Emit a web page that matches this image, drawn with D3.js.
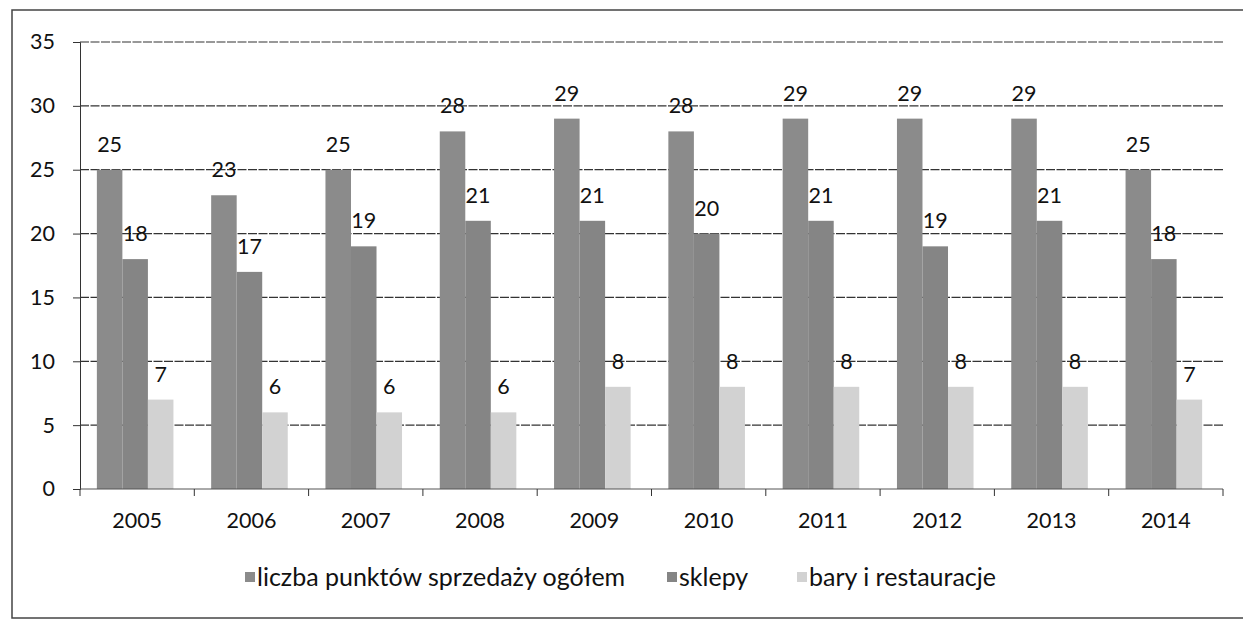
<!DOCTYPE html>
<html><head><meta charset="utf-8">
<script src="https://cdn.jsdelivr.net/npm/d3@7"></script>
<style>body{margin:0;background:#fff}svg{display:block}text{font-family:Lato,"Open Sans",sans-serif;fill:#111}</style>
</head><body><svg id="c" width="1243" height="620"></svg>
<script>
const years = ["2005","2006","2007","2008","2009","2010","2011","2012","2013","2014"];
const seriesNames = ["liczba punktów sprzedaży ogółem","sklepy","bary i restauracje"];
const total = [25,23,25,28,29,28,29,29,29,25];
const sklepy = [18,17,19,21,21,20,21,19,21,18];
const bary = [7,6,6,6,8,8,8,8,8,7];
const yTicks = [0,5,10,15,20,25,30,35];
const colors = ["#8b8b8b","#858585","#d2d2d2"];

const svg = d3.select("#c");
const L = 80, R = 1223, T = 42, B = 489;
const x = d3.scaleBand().domain(years).range([L, R]).paddingInner(0.33).paddingOuter(0.165);
const xs = d3.scaleBand().domain(years).range([L, R]);
const y = d3.scaleLinear().domain([0, 35]).range([B, T]);
const sub = d3.scaleBand().domain([0,1,2]).range([0, x.bandwidth()]);

// outer border
svg.append("rect").attr("x",12).attr("y",10).attr("width",1260).attr("height",608)
  .attr("fill","none").attr("stroke","#444").attr("stroke-width",1.5);

// gridlines
svg.append("g").selectAll("line").data(yTicks.filter(d=>d>0)).join("line")
  .attr("x1",L).attr("x2",R).attr("y1",d=>y(d)).attr("y2",d=>y(d))
  .attr("stroke","#333").attr("stroke-width",1.2).attr("stroke-dasharray","9,1.5");

// bars
const data = years.map((yr,i)=>({yr, vals:[total[i],sklepy[i],bary[i]]}));
const g = svg.append("g");
data.forEach(d=>{
  d.vals.forEach((v,k)=>{
    const bx = x(d.yr) - 2 + sub(k);
    g.append("rect").attr("x",bx).attr("y",y(v)).attr("width",sub.bandwidth()).attr("height",B-y(v))
      .attr("fill",colors[k]);
    g.append("text").attr("x",bx+sub.bandwidth()/2).attr("y",y(v)-18).attr("text-anchor","middle")
      .attr("font-size",21.5).text(v);
  });
});

// y axis
const ya = d3.axisLeft(y).tickValues(yTicks).tickSize(7).tickPadding(18);
const yg = svg.append("g").attr("transform",`translate(${L},0)`).call(ya);
yg.select(".domain").attr("stroke","#333");
yg.selectAll(".tick line").attr("stroke","#333");
yg.selectAll("text").attr("font-size",21.5).attr("font-family","Lato").attr("fill","#111");

// x axis
const xg = svg.append("g").attr("transform",`translate(0,${B})`);
xg.append("line").attr("x1",L).attr("x2",R).attr("stroke","#555").attr("stroke-width",1);
xg.selectAll(".tk").data(d3.range(years.length+1)).join("line")
  .attr("x1",i=>L+i*xs.step()).attr("x2",i=>L+i*xs.step()).attr("y1",0).attr("y2",7).attr("stroke","#333");
xg.selectAll(".lbl").data(years).join("text")
  .attr("x",d=>xs(d)+xs.bandwidth()/2).attr("y",39).attr("text-anchor","middle").attr("font-size",21.5).text(d=>d);

// legend
const legX = [245, 667, 797];
const lg = svg.append("g").attr("transform","translate(0,578)");
seriesNames.forEach((n,k)=>{
  lg.append("rect").attr("x",legX[k]).attr("y",-6).attr("width",10).attr("height",10).attr("fill",colors[k]);
  lg.append("text").attr("x",legX[k]+12).attr("y",8).attr("font-size",25).text(n);
});
</script></body></html>
